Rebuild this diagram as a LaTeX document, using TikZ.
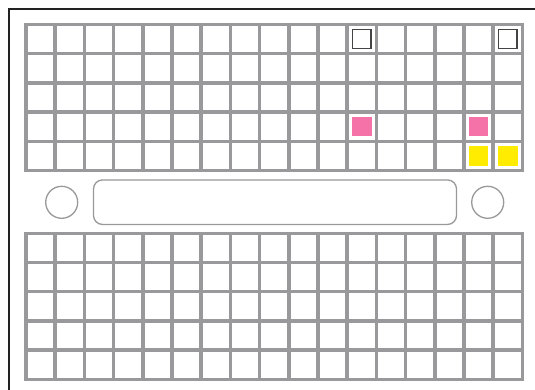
\documentclass[tikz,border=0pt]{standalone}
\usepackage{xcolor}
\usepackage{tikz}
\usetikzlibrary{positioning}
\definecolor{gridgray}{RGB}{153,153,156}
\definecolor{framedark}{RGB}{34,34,34}
\definecolor{markpink}{RGB}{244,114,168}
\definecolor{markyellow}{RGB}{255,236,0}
\definecolor{outlinedark}{RGB}{68,68,68}

\begin{document}
\begin{tikzpicture}[x=1pt, y=-1pt,
    gridline/.style={draw=gridgray, line width=3.5pt, line cap=rect},
    hole/.style={circle, draw=gridgray, line width=1.3pt, minimum size=32pt, inner sep=0pt},
    slotbox/.style={rectangle, draw=gridgray, line width=1.3pt, rounded corners=9pt, minimum width=363pt, minimum height=44.5pt, inner sep=0pt},
    emptymark/.style={rectangle, draw=outlinedark, line width=1.3pt, fill=white, minimum size=18.5pt, inner sep=0pt},
    pinkmark/.style={rectangle, fill=markpink, minimum size=19.5pt, inner sep=0pt},
    yellowmark/.style={rectangle, fill=markyellow, minimum size=19.5pt, inner sep=0pt}]

    \useasboundingbox (0,0) rectangle (535,390);
    \clip (0,0) rectangle (535,390);
    \fill[white] (0,0) rectangle (535,390);

    % outer frame, runs off the right and bottom edges
    \draw[framedark, line width=2pt] (9,9) rectangle (560,420);

    % the two grids of 17 x 5 cells
    \foreach \gtop in {24.5,233.3} {
        \foreach \c in {0,...,17}
            \draw[gridline] ({26+29.2*\c},\gtop) -- ({26+29.2*\c},{\gtop+146});
        \foreach \r in {0,...,5}
            \draw[gridline] (26,{\gtop+29.2*\r}) -- (522.4,{\gtop+29.2*\r});
    }

    % middle strip
    \node [hole] (lefthole) at (61.7,202.3) {};
    \node [slotbox] (slot) at (275,202.2) {};
    \node [hole] (righthole) at (487.7,202.3) {};

    % marked cells
    \node [emptymark] (emptyA) at (361.8,39.1) {};
    \node [emptymark] (emptyB) at (507.8,39.1) {};
    \node [pinkmark] (pinkA) at (361.8,126.7) {};
    \node [pinkmark] (pinkB) at (478.6,126.7) {};
    \node [yellowmark] (yellowA) at (478.6,155.9) {};
    \node [yellowmark] (yellowB) at (507.8,155.9) {};
\end{tikzpicture}
\end{document}
